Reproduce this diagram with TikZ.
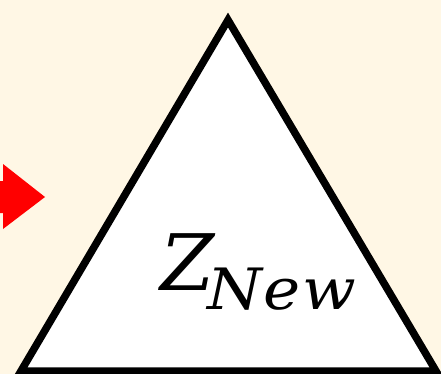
\documentclass[tikz,border=0pt]{standalone}
\usepackage{fontspec}
\newfontfamily\labelfont{DejaVu Serif}
\newfontfamily\sublabelfont[FakeStretch=1.1,LetterSpace=3]{DejaVu Serif}
\definecolor{bgcream}{HTML}{FFF7E5}
\definecolor{arrowred}{HTML}{FF0000}
\tikzset{
  tri/.style={draw=black, line width=7.5pt, fill=white, line join=miter},
  redarrow/.style={fill=arrowred, draw=none},
  lbl/.style={inner sep=0pt, anchor=base west}
}
\begin{document}
\begin{tikzpicture}[x=1pt,y=-1pt]
\fill[bgcream] (0,0) rectangle (441,374);
\useasboundingbox (0,0) rectangle (441,374);
\coordinate (top) at (228,20);
\coordinate (bl) at (21,371);
\coordinate (br) at (436,371);
\draw[tri] (top) -- (bl) -- (br) -- cycle;
\fill[redarrow] (0,181) -- (3,181) -- (3,164) -- (45,197) -- (3,229) -- (3,213) -- (0,213) -- cycle;
\node[lbl, font=\labelfont\itshape\fontsize{78}{78}\selectfont] (z) at (160,290) {Z};
\node[lbl, font=\sublabelfont\itshape\fontsize{57}{57}\selectfont] (sub) at (207,309) {New};
\end{tikzpicture}
\end{document}
